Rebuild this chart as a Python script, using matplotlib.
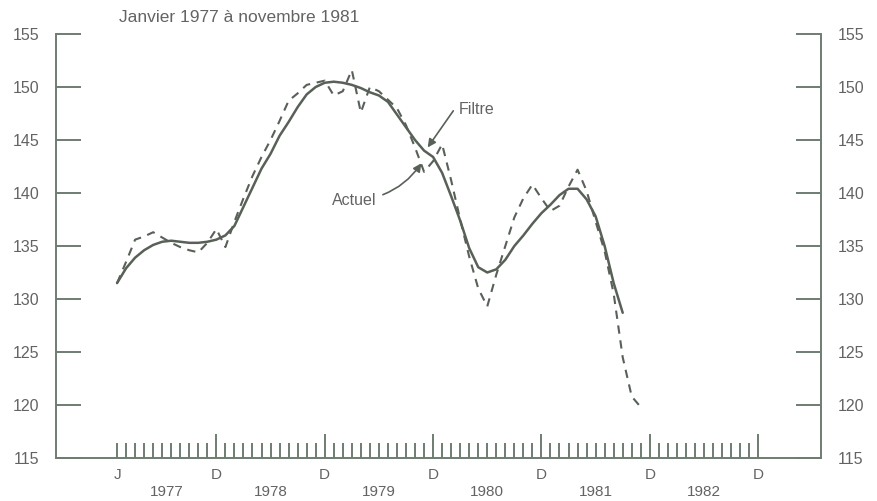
import numpy as np
import matplotlib
matplotlib.use("Agg")
import matplotlib.pyplot as plt
from matplotlib.transforms import blended_transform_factory

plt.rcParams['font.family'] = ['Liberation Sans', 'DejaVu Sans']

# ---- data (monthly, index 0 = January 1977) ----
filtre = [131.5, 132.9, 133.9, 134.6, 135.1, 135.4, 135.5, 135.4, 135.3, 135.3,
          135.4, 135.6, 136.0, 136.9, 138.7, 140.5, 142.3, 143.7, 145.4, 146.7,
          148.1, 149.3, 150.0, 150.4, 150.5, 150.4, 150.2, 149.9, 149.5, 149.2,
          148.6, 147.4, 146.2, 145.0, 144.0, 143.4, 141.9, 139.7, 137.4, 134.8,
          133.0, 132.5, 132.8, 133.7, 135.0, 136.0, 137.1, 138.1, 138.9, 139.8,
          140.4, 140.4, 139.4, 137.8, 135.0, 131.5, 128.7]
actuel = [131.5, 133.5, 135.6, 135.9, 136.3, 135.8, 135.3, 134.9, 134.6, 134.4,
          135.3, 136.6, 134.9, 137.3, 139.5, 141.6, 143.4, 145.0, 146.8, 148.7,
          149.4, 150.2, 150.4, 150.6, 149.2, 149.6, 151.6, 147.6, 150.0, 149.6,
          148.8, 148.0, 146.4, 144.3, 142.0, 143.0, 144.6, 141.2, 137.5, 134.0,
          131.0, 129.3, 132.3, 135.0, 137.7, 139.5, 140.8, 139.5, 138.3, 138.8,
          140.6, 142.2, 140.2, 137.3, 134.5, 130.5, 124.5, 120.8, 119.8]
years = ["1977", "1978", "1979", "1980", "1981", "1982"]
month_labels = ["J", "D", "D", "D", "D", "D", "D"]
month_label_pos = [0, 11, 23, 35, 47, 59, 71]
yticks = [115, 120, 125, 130, 135, 140, 145, 150, 155]
title = "Janvier 1977 à novembre 1981"

line_col = "#586058"
axis_col = "#6f7c72"
text_col = "#626462"

fig = plt.figure(figsize=(8.77, 5.01), dpi=100)
ax = fig.add_axes([56/877, 1-458/501, (821-56)/877, (458-34)/501])
ax.set_xlim(-6.76, 77.96)
ax.set_ylim(115, 155)

# curves
ax.plot(np.arange(len(filtre)), filtre, color=line_col, lw=1.8, solid_capstyle='round')
ax.plot(np.arange(len(actuel)), actuel, color=line_col, lw=1.5, dashes=(4, 3.2))

# spines
ax.spines['top'].set_visible(False)
for s in ['left', 'right', 'bottom']:
    ax.spines[s].set_color(axis_col)
    ax.spines[s].set_linewidth(1.4)

# y ticks both sides
ax.set_yticks(yticks)
ax.tick_params(axis='y', which='both', direction='in', length=18, width=1.4,
               color=axis_col, left=True, right=True, labelleft=True,
               labelright=True, labelsize=11.5, labelcolor=text_col, pad=12)
ax.set_xticks([])

# month tick marks along the bottom
months = np.arange(0, 72)
small = [m for m in months if m % 12 != 11]
big = [m for m in months if m % 12 == 11]
ax.vlines(small, 115, 116.42, color=axis_col, lw=1.4)
ax.vlines(big, 115, 117.3, color=axis_col, lw=1.4)

# month letters and years
trans = blended_transform_factory(ax.transData, ax.transAxes)
for pos, lab in zip(month_label_pos, month_labels):
    ax.text(pos, 1 - (475-34)/424, lab, transform=trans, ha='center', va='center',
            fontsize=11, color=text_col, clip_on=False)
for i, yr in enumerate(years):
    start = 0 if i == 0 else 11 + 12*(i-1)
    end = 11 + 12*i
    ax.text((start + end)/2, 1 - (492-34)/424, yr, transform=trans, ha='center',
            va='center', fontsize=11, color=text_col, clip_on=False)

# title
fig.text(239/877, 1-18/501, title, ha='center', va='center', fontsize=12.5,
         color=text_col)

# annotations
ax.annotate("Filtre", xy=(34.4, 144.3), xytext=(37.8, 147.9),
            ha='left', va='center', fontsize=11.5, color=text_col,
            arrowprops=dict(arrowstyle='-|>', color=line_col, lw=1.2,
                            mutation_scale=12, shrinkA=2, shrinkB=0,
                            connectionstyle="angle,angleA=0,angleB=55,rad=0"))
ax.annotate("Actuel", xy=(33.7, 142.8), xytext=(28.7, 139.3),
            ha='right', va='center', fontsize=11.5, color=text_col,
            arrowprops=dict(arrowstyle='-|>', color=line_col, lw=1.2,
                            mutation_scale=12, shrinkA=3, shrinkB=0,
                            connectionstyle="arc3,rad=0.25"))

fig.savefig("out.png", dpi=100, facecolor='white')
